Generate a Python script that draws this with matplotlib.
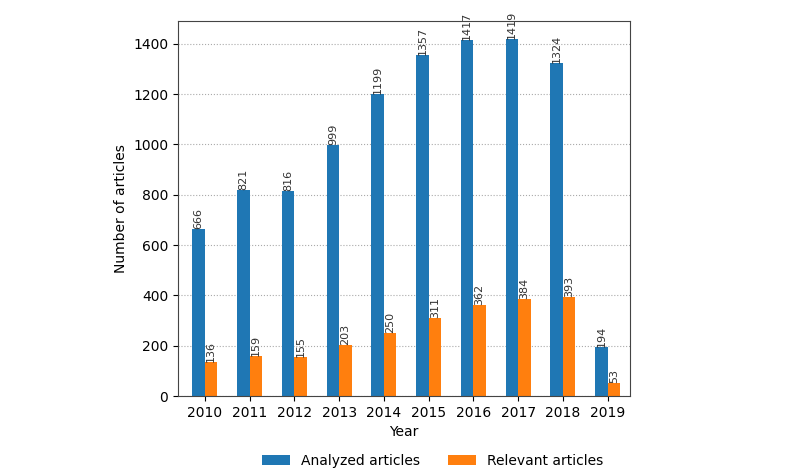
import matplotlib
matplotlib.use("Agg")
import matplotlib.pyplot as plt
import numpy as np

years = ['2010', '2011', '2012', '2013', '2014', '2015', '2016', '2017', '2018', '2019']
analyzed = [666, 821, 816, 999, 1199, 1357, 1417, 1419, 1324, 194]
relevant = [136, 159, 155, 203, 250, 311, 362, 384, 393, 53]

x = np.arange(len(years))
w = 0.28

fig = plt.figure(figsize=(8, 4.71), dpi=100)
ax = fig.add_axes([0.2225, 0.159, 0.565, 0.796])
b1 = ax.bar(x - w / 2, analyzed, w, color='#1f77b4', label='Analyzed articles')
b2 = ax.bar(x + w / 2, relevant, w, color='#ff7f0e', label='Relevant articles')

for bars in (b1, b2):
    for r in bars:
        h = r.get_height()
        ax.text(r.get_x() + r.get_width() / 2, h, str(int(h)), rotation=90,
                ha='center', va='bottom', fontsize=8, color='#333333')

ax.set_xticks(x)
ax.set_xticklabels(years)
ax.set_xlim(-0.6, 9.5)
ax.set_ylim(0, 1490)
ax.yaxis.grid(True, linestyle=':', color='#aaaaaa')
ax.set_axisbelow(True)
ax.set_xlabel('Year')
ax.set_ylabel('Number of articles')
for s in ax.spines.values():
    s.set_color('#444444')
ax.legend(loc='upper center', bbox_to_anchor=(0.563, -0.12), ncol=2, frameon=False)

plt.savefig('out.png', dpi=100)
